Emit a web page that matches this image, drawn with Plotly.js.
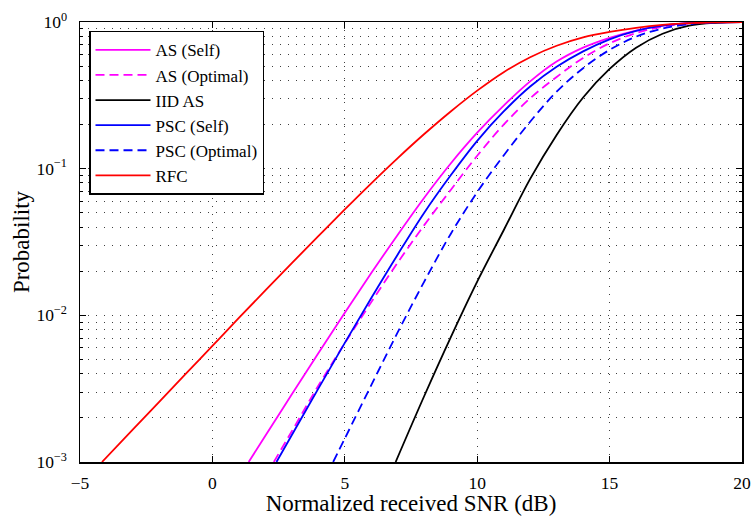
<!DOCTYPE html>
<html>
<head>
<meta charset="utf-8">
<script src="https://cdn.plot.ly/plotly-3.0.1.min.js"></script>
<style>
  html, body { margin: 0; padding: 0; background: #ffffff; }
  #chart { width: 753px; height: 516px; }
</style>
</head>
<body>
<div id="chart"></div>
<script>
// ---- Data (x: normalized received SNR in dB; values given as log10(probability)) ----
const seriesNames = ["AS (Self)", "AS (Optimal)", "IID AS", "PSC (Self)", "PSC (Optimal)", "RFC"];

const asSelfX   = [1.37, 2, 3, 4, 5, 6, 7, 8, 9, 10, 11, 12, 13, 14, 15, 16, 17, 18, 19, 20];
const asSelfLog = [-3, -2.821, -2.538, -2.258, -1.982, -1.712, -1.450, -1.198, -0.965, -0.755, -0.570, -0.405, -0.270, -0.175, -0.108, -0.058, -0.025, -0.008, -0.002, 0];

const asOptX    = [2.32, 3, 4, 5, 6, 7, 8, 9, 10, 11, 12, 13, 14, 15, 16, 17, 18, 19, 20];
const asOptLog  = [-3, -2.79, -2.48, -2.19, -1.91, -1.64, -1.385, -1.145, -0.912, -0.70, -0.52, -0.375, -0.245, -0.145, -0.075, -0.032, -0.010, -0.002, 0];

const iidX      = [6.92, 8, 9, 10, 11, 12, 13, 14, 15, 16, 17, 18, 19, 20];
const iidLog    = [-3, -2.55, -2.15, -1.77, -1.42, -1.07, -0.77, -0.515, -0.32, -0.175, -0.08, -0.025, -0.005, 0];

const pscSelfX  = [2.42, 3, 4, 5, 6, 7, 8, 9, 10, 11, 12, 13, 14, 15, 16, 17, 18, 19, 20];
const pscSelfLog= [-3, -2.816, -2.500, -2.188, -1.882, -1.585, -1.300, -1.045, -0.810, -0.610, -0.440, -0.305, -0.200, -0.118, -0.060, -0.025, -0.008, -0.002, 0];

const pscOptX   = [4.56, 5, 6, 7, 8, 9, 10, 11, 12, 13, 14, 15, 16, 17, 18, 19, 20];
const pscOptLog = [-3, -2.84, -2.476, -2.115, -1.77, -1.445, -1.16, -0.91, -0.68, -0.475, -0.315, -0.19, -0.10, -0.045, -0.015, -0.003, 0];

const rfcX      = [-4.17, -3, -2, -1, 0, 1, 2, 3, 4, 5, 6, 7, 8, 9, 10, 11, 12, 13, 14, 15, 16, 17, 18, 19, 20];
const rfcLog    = [-3, -2.778, -2.588, -2.398, -2.208, -2.018, -1.830, -1.644, -1.460, -1.278, -1.100, -0.928, -0.764, -0.610, -0.468, -0.342, -0.240, -0.162, -0.105, -0.068, -0.040, -0.020, -0.008, -0.002, 0];

const xTickVals = [-5, 0, 5, 10, 15, 20];
const xTickText = ["\u22125", "0", "5", "10", "15", "20"];
const yTickVals = [0.001, 0.01, 0.1, 1];
const yTickText = ["10<sup>\u22123</sup>", "10<sup>\u22122</sup>", "10<sup>\u22121</sup>", "10<sup>0</sup>"];

// ---- Build traces ----
const toProb = arr => arr.map(v => Math.pow(10, v));
const serif = "'Liberation Serif', 'DejaVu Serif', serif";

function tr(name, xs, logs, color, dash) {
  return {
    type: "scatter", mode: "lines", name: name,
    x: xs, y: toProb(logs),
    line: { color: color, width: 1.8, dash: dash, shape: "spline", smoothing: 1 }
  };
}

const data = [
  tr(seriesNames[0], asSelfX, asSelfLog, "#ff00ff", "solid"),
  tr(seriesNames[1], asOptX, asOptLog, "#ff00ff", "9px,5px"),
  tr(seriesNames[2], iidX, iidLog, "#000000", "solid"),
  tr(seriesNames[3], pscSelfX, pscSelfLog, "#0000ff", "solid"),
  tr(seriesNames[4], pscOptX, pscOptLog, "#0000ff", "9px,5px"),
  tr(seriesNames[5], rfcX, rfcLog, "#ff0000", "solid")
];

const minorY = [];
for (let d = -3; d < 0; d++) for (let k = 2; k <= 9; k++) minorY.push(k * Math.pow(10, d));

const gridCol = "rgba(0,0,0,0.75)";
const gridDash = "1px,7px";

const layout = {
  width: 753, height: 516,
  margin: { l: 80, r: 11, t: 22, b: 54 },
  paper_bgcolor: "#ffffff", plot_bgcolor: "#ffffff",
  font: { family: serif, color: "#000000", size: 17 },
  showlegend: true,
  legend: {
    x: 0.0136, y: 0.98, xanchor: "left", yanchor: "top",
    bgcolor: "#ffffff", bordercolor: "#000000", borderwidth: 1.5,
    font: { family: serif, size: 17, color: "#000000" },
    itemwidth: 55, tracegroupgap: 0
  },
  xaxis: {
    range: [-5, 20], type: "linear",
    tickmode: "array", tickvals: xTickVals, ticktext: xTickText,
    ticks: "inside", ticklen: 6, tickwidth: 1, tickcolor: "#000",
    mirror: "allticks", showline: true, linecolor: "#000", linewidth: 1.5,
    showgrid: true, gridcolor: gridCol, gridwidth: 1, griddash: gridDash,
    zeroline: false, ticklabelstandoff: 4,
    tickfont: { family: serif, size: 17.5 },
    title: { text: "Normalized received SNR (dB)", font: { family: serif, size: 23 }, standoff: 3 }
  },
  yaxis: {
    type: "log", range: [-3, 0],
    tickmode: "array", tickvals: yTickVals, ticktext: yTickText,
    ticks: "inside", ticklen: 6, tickwidth: 1, tickcolor: "#000",
    mirror: "allticks", showline: true, linecolor: "#000", linewidth: 1.5,
    showgrid: true, gridcolor: gridCol, gridwidth: 1, griddash: gridDash,
    minor: { tickvals: minorY, ticks: "inside", ticklen: 3, tickcolor: "#000", showgrid: true, gridcolor: gridCol, griddash: gridDash, gridwidth: 1 },
    zeroline: false, ticklabelstandoff: 8,
    tickfont: { family: serif, size: 17.5 },
    title: { text: "Probability", font: { family: serif, size: 23 }, standoff: 0 }
  }
};

Plotly.newPlot("chart", data, layout, { displayModeBar: false, staticPlot: true });
</script>
</body>
</html>
